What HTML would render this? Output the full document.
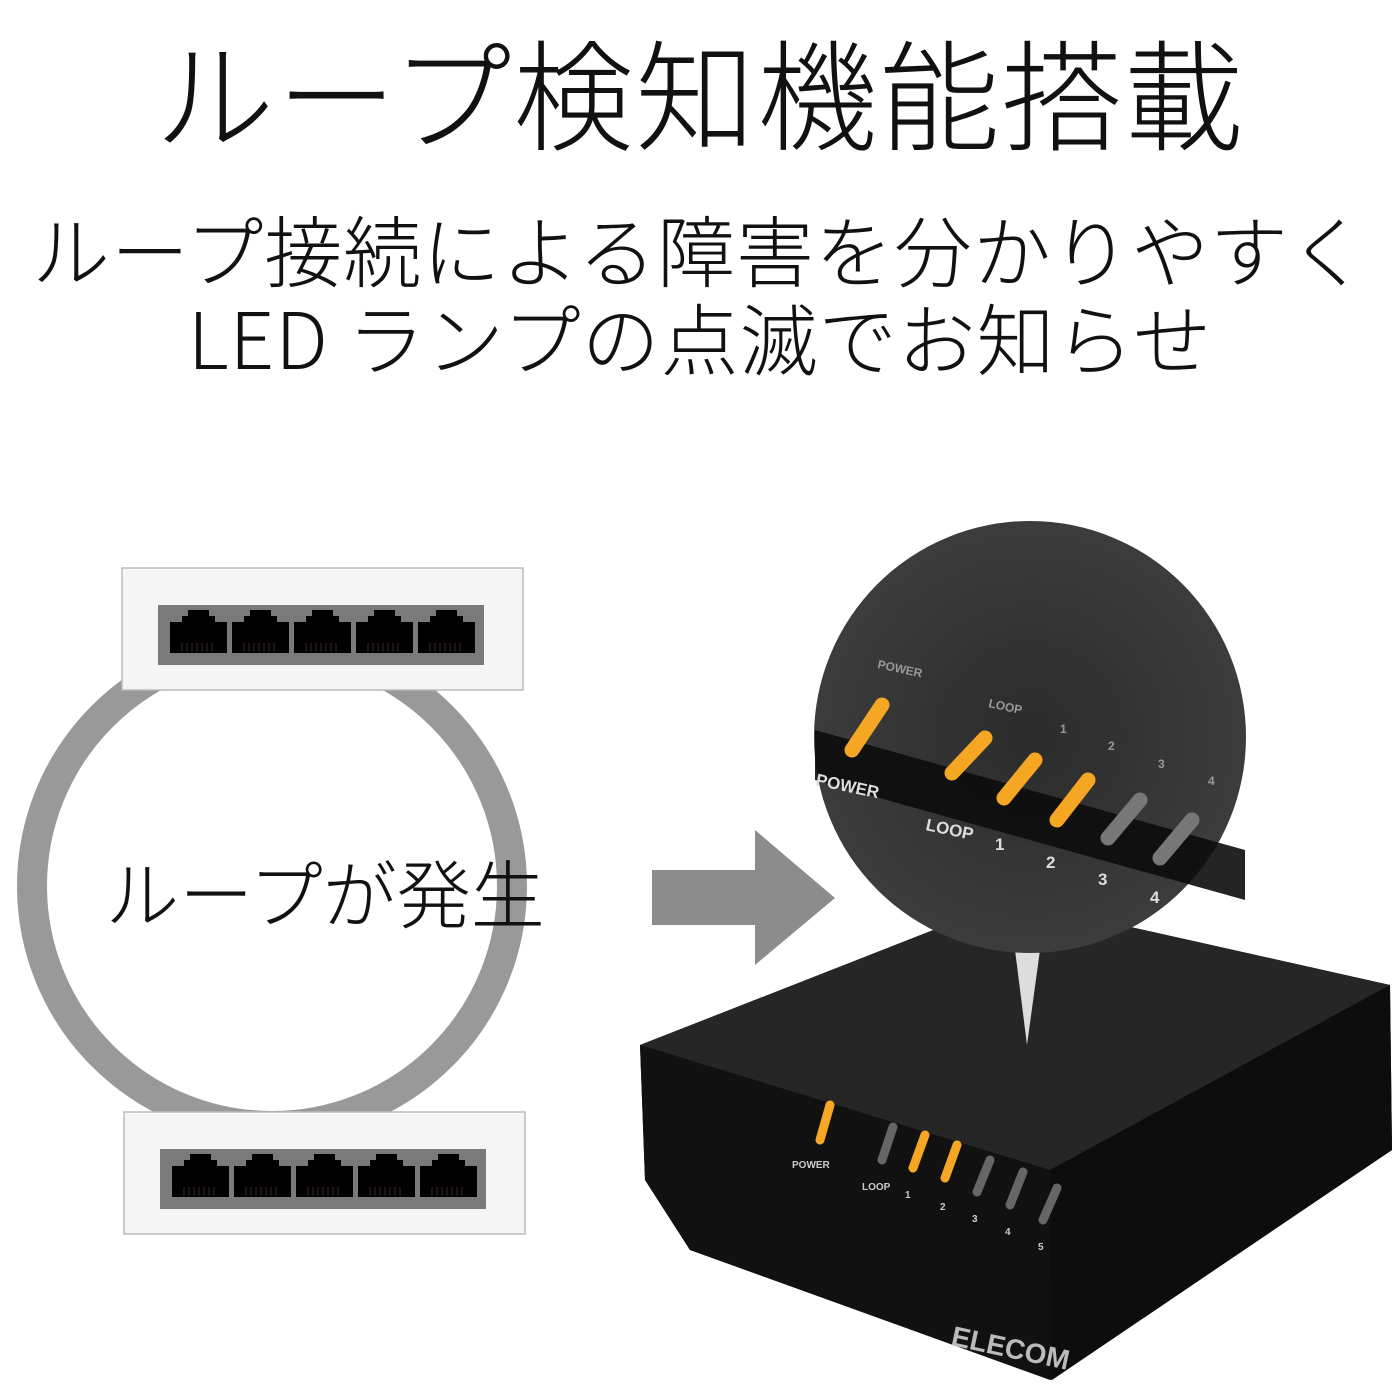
<!DOCTYPE html>
<html><head><meta charset="utf-8"><style>
html,body{margin:0;padding:0;background:#fff;}
body{width:1400px;height:1400px;position:relative;overflow:hidden;font-family:"Noto Sans CJK JP","Liberation Sans",sans-serif;}
.t{position:absolute;left:0;width:1400px;text-align:center;color:#111;white-space:nowrap;font-weight:300;font-family:"Noto Sans CJK JP",sans-serif;}
</style></head><body>
<div class="t" style="top:14px;font-size:120px;line-height:150px;letter-spacing:2px;">ループ検知機能搭載</div>
<div class="t" style="top:198px;font-size:78px;line-height:100px;letter-spacing:1px;">ループ接続による障害を分かりやすく</div>
<div class="t" style="top:286px;font-size:78px;line-height:100px;letter-spacing:1px;">LED ランプの点滅でお知らせ</div>
<svg width="1400" height="1400" style="position:absolute;left:0;top:0" xmlns="http://www.w3.org/2000/svg">
<defs>
<g id="port"><path d="M0 12 H12 V6 H18 V0 H39 V6 H45 V12 H57 V43 H0Z" fill="#000"/>
<g stroke="#3a2a25" stroke-width="1"><line x1="12" y1="33" x2="12" y2="42"/><line x1="17" y1="33" x2="17" y2="42"/><line x1="22" y1="33" x2="22" y2="42"/><line x1="27" y1="33" x2="27" y2="42"/><line x1="32" y1="33" x2="32" y2="42"/><line x1="37" y1="33" x2="37" y2="42"/><line x1="42" y1="33" x2="42" y2="42"/></g></g>
<g id="sw"><rect x="0" y="0" width="401" height="122" fill="#f5f5f5" stroke="#bbb" stroke-width="1.5"/>
<rect x="36" y="37" width="326" height="60" fill="#7a7a7a"/>
<use href="#port" x="48" y="42"/><use href="#port" x="110" y="42"/><use href="#port" x="172" y="42"/><use href="#port" x="234" y="42"/><use href="#port" x="296" y="42"/></g>
<radialGradient id="mg" cx="0.5" cy="0.5" r="0.5"><stop offset="0" stop-color="#2b2b2b"/><stop offset="1" stop-color="#3c3c3c"/></radialGradient>
</defs>
<circle cx="272" cy="886" r="240" fill="none" stroke="#999" stroke-width="30"/>
<use href="#sw" x="122" y="568"/>
<use href="#sw" x="124" y="1112"/>
<text x="325" y="922" font-size="74" text-anchor="middle" fill="#111" font-family="Noto Sans CJK JP, sans-serif" font-weight="300">ループが発生</text>
<path d="M652 870 H755 V830 L835 898 L755 965 V925 H652Z" fill="#8c8c8c"/>
<path d="M640 1045 L1010 900 L1390 985 L1392 1150 L1050 1380 L690 1250 L645 1180Z" fill="#1a1a1a"/>
<path d="M640 1045 L1010 900 L1390 985 L1050 1170Z" fill="#262626"/>
<path d="M640 1045 L1050 1170 L1052 1380 L690 1250 L645 1180Z" fill="#111"/>
<path d="M1050 1170 L1390 985 L1392 1150 L1052 1380Z" fill="#0d0d0d"/>
<text x="950" y="1345" font-size="28" fill="#bbb" font-weight="bold" font-family="Liberation Sans, sans-serif" transform="rotate(12 950 1345)">ELECOM</text>
<g font-size="10" fill="#ccc" font-weight="bold" font-family="Liberation Sans, sans-serif">
<text x="792" y="1168">POWER</text><text x="862" y="1190">LOOP</text><text x="905" y="1198">1</text><text x="940" y="1210">2</text><text x="972" y="1222">3</text><text x="1005" y="1235">4</text><text x="1038" y="1250">5</text></g>
<g stroke-width="9" stroke-linecap="round">
<line x1="820" y1="1140" x2="830" y2="1105" stroke="#f5a623"/>
<line x1="882" y1="1160" x2="893" y2="1127" stroke="#666"/>
<line x1="913" y1="1168" x2="925" y2="1135" stroke="#f5a623"/>
<line x1="945" y1="1178" x2="957" y2="1145" stroke="#f5a623"/>
<line x1="977" y1="1192" x2="990" y2="1160" stroke="#666"/>
<line x1="1010" y1="1205" x2="1023" y2="1172" stroke="#666"/>
<line x1="1043" y1="1220" x2="1057" y2="1188" stroke="#666"/>
</g>
<path d="M1015 950 L1027 1045 L1040 950Z" fill="#ddd"/>
<circle cx="1030" cy="737" r="216" fill="url(#mg)"/>
<path d="M815 730 L1245 850 L1245 900 L815 780Z" fill="#0c0c0c" opacity="0.9"/>
<g font-size="17" fill="#ddd" font-weight="bold" font-family="Liberation Sans, sans-serif">
<text x="815" y="785" transform="rotate(12 815 785)">POWER</text>
<text x="925" y="830" transform="rotate(12 925 830)">LOOP</text>
<text x="995" y="850">1</text><text x="1046" y="868">2</text><text x="1098" y="885">3</text><text x="1150" y="903">4</text>
</g>
<g font-size="12" fill="#999" font-weight="bold" font-family="Liberation Sans, sans-serif">
<text x="877" y="668" transform="rotate(12 877 668)">POWER</text>
<text x="988" y="707" transform="rotate(12 988 707)">LOOP</text><text x="1060" y="733">1</text><text x="1108" y="750">2</text><text x="1158" y="768">3</text><text x="1208" y="785">4</text></g>
<g stroke-width="15" stroke-linecap="round">
<line x1="852" y1="750" x2="882" y2="705" stroke="#f5a623"/>
<line x1="952" y1="773" x2="985" y2="738" stroke="#f5a623"/>
<line x1="1004" y1="798" x2="1035" y2="760" stroke="#f5a623"/>
<line x1="1057" y1="820" x2="1088" y2="780" stroke="#f5a623"/>
<line x1="1108" y1="838" x2="1140" y2="800" stroke="#777"/>
<line x1="1160" y1="858" x2="1192" y2="820" stroke="#777"/>
</g>
</svg>
</body></html>
